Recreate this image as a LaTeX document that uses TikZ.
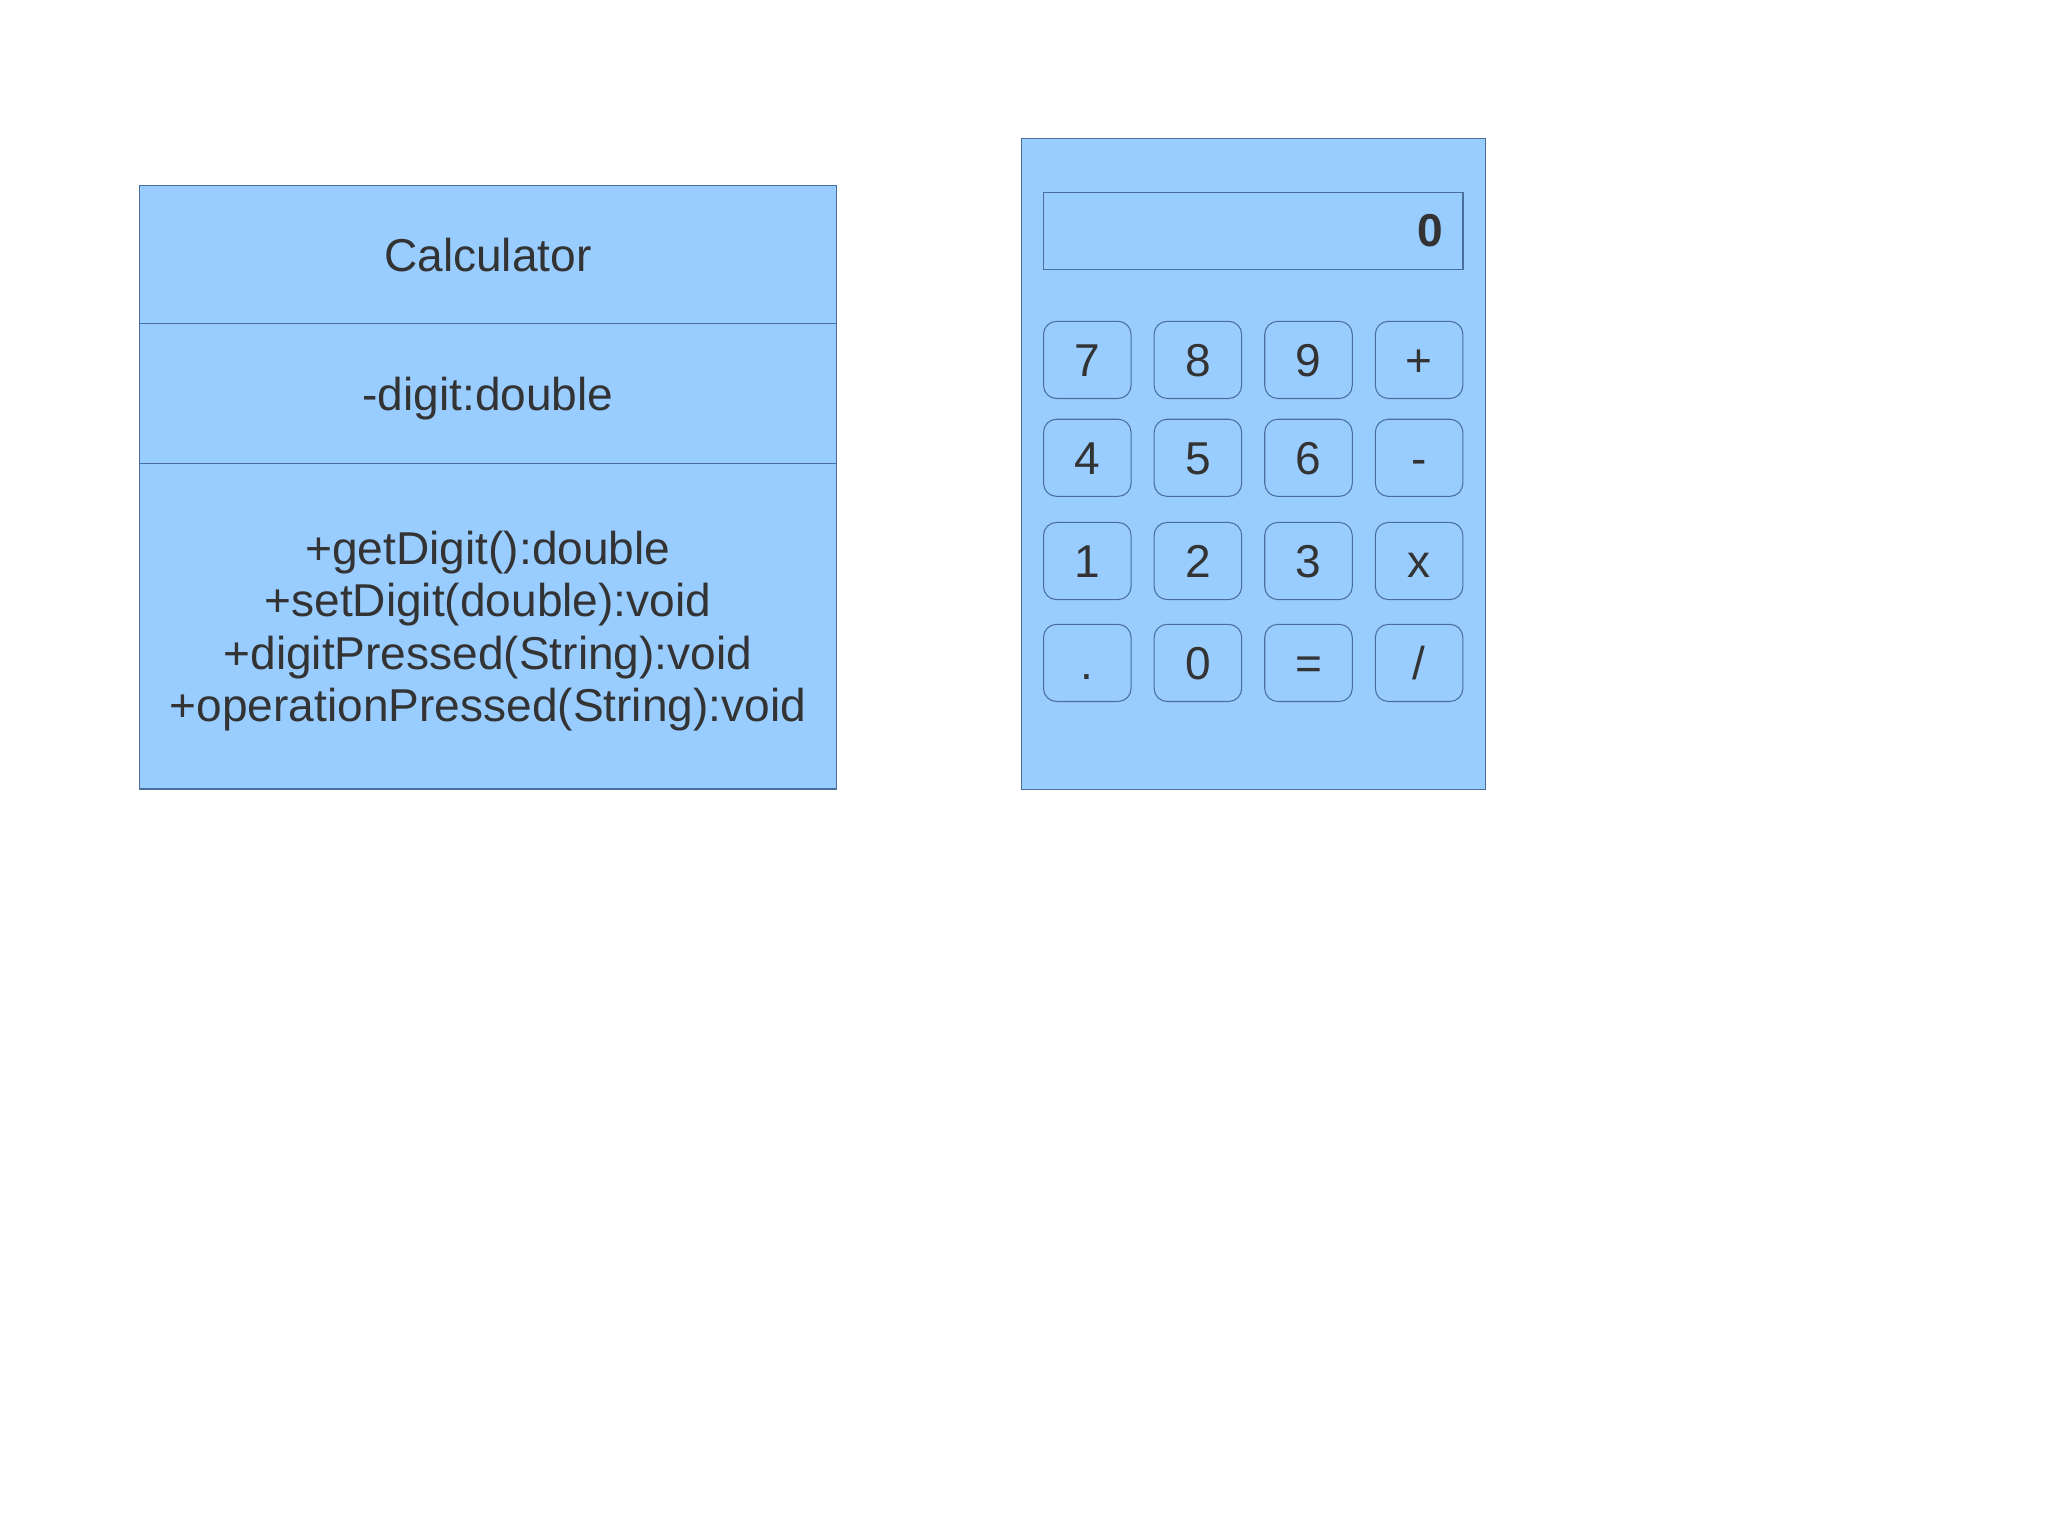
\documentclass[tikz,border=0pt]{standalone}
\usepackage{fontspec}
\setmainfont{Liberation Sans}
\definecolor{boxfill}{HTML}{99CCFF}
\definecolor{boxline}{HTML}{4A6F9C}
\definecolor{ink}{HTML}{333333}

\begin{document}
\begin{tikzpicture}[x=0.01cm,y=-0.01cm,
  part/.style={draw=boxline,fill=boxfill,line width=0.3pt,minimum width=6.961cm,
    inner sep=0pt,text=ink,align=center,text depth=0pt,
    font=\fontsize{13.1}{14.9}\selectfont},
  key/.style={draw=boxline,fill=boxfill,line width=0.3pt,rounded corners=0.13cm,
    minimum width=0.875cm,minimum height=0.771cm,inner sep=0pt,text=ink,
    text height=9.4pt,text depth=0pt,font=\fontsize{13.1}{14.9}\selectfont}]
  \useasboundingbox (0,0) rectangle (2048,1535);

  % class box
  \node[part,minimum height=1.384cm] (title) at (487.9,254.7){Calculator};
  \node[part,minimum height=1.398cm] (attr) at (487.9,393.8){-digit:double};
  \node[part,minimum height=3.252cm] (ops) at (487.9,626.3){+getDigit():double\\
    +setDigit(double):void\\+digitPressed(String):void\\+operationPressed(String):void};

  % calculator window
  \node[draw=boxline,fill=boxfill,line width=0.3pt,minimum width=4.636cm,
    minimum height=6.505cm] (frame) at (1253.2,463.7){};
  \node[draw=boxline,line width=0.3pt,text width=3.793cm,inner xsep=0.2cm,
    inner ysep=0pt,minimum height=0.771cm,align=right,text=ink,
    font=\fontsize{13.1}{14.9}\selectfont\bfseries] (display) at (1253.2,230.6){0};

  \node[key] (k7) at (1087.3,359.9){7};
  \node[key] (k8) at (1197.9,359.9){8};
  \node[key] (k9) at (1308.5,359.9){9};
  \node[key] (kplus) at (1419.1,359.9){+};

  \node[key] (k4) at (1087.3,457.8){4};
  \node[key] (k5) at (1197.9,457.8){5};
  \node[key] (k6) at (1308.5,457.8){6};
  \node[key] (kminus) at (1419.1,457.8){-};

  \node[key] (k1) at (1087.3,561.0){1};
  \node[key] (k2) at (1197.9,561.0){2};
  \node[key] (k3) at (1308.5,561.0){3};
  \node[key] (ktimes) at (1419.1,561.0){x};

  \node[key] (kdot) at (1087.3,662.9){.};
  \node[key] (k0) at (1197.9,662.9){0};
  \node[key] (kequal) at (1308.5,662.9){=};
  \node[key] (kdiv) at (1419.1,662.9){/};

\end{tikzpicture}
\end{document}
